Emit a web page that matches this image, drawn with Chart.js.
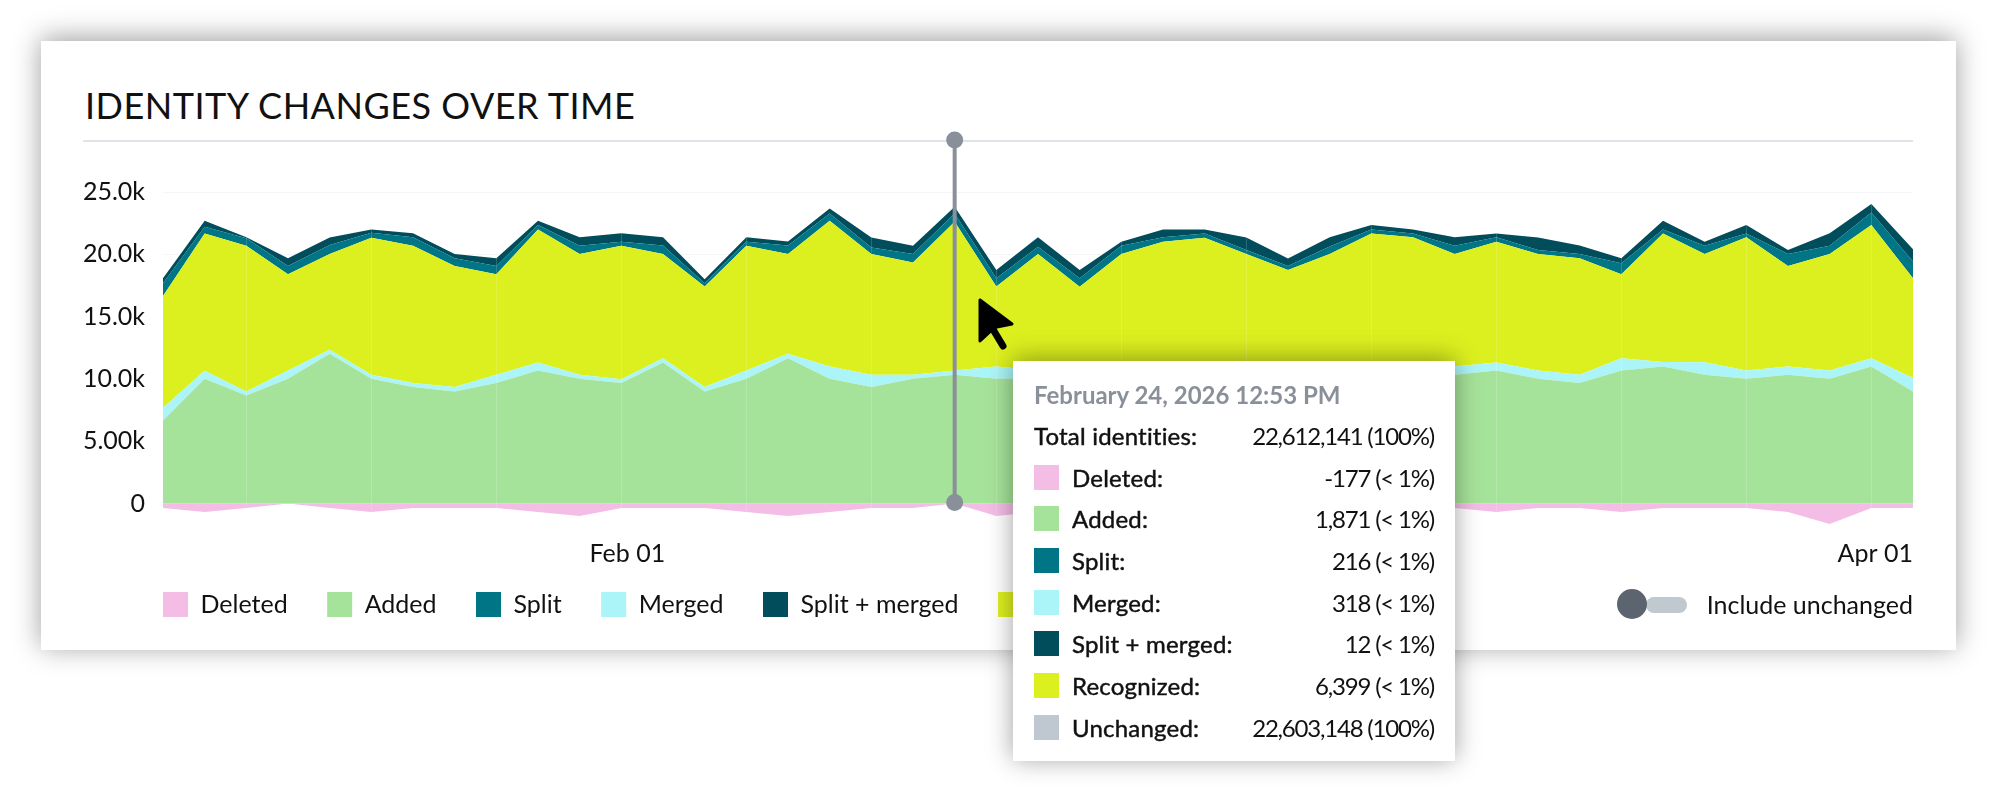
<!DOCTYPE html>
<html><head><meta charset="utf-8">
<script src="https://cdn.jsdelivr.net/npm/chart.js@4"></script>
<style>
html,body{margin:0;padding:0;background:#fff;width:1996px;height:807px;overflow:hidden;font-family:Lato,sans-serif;color:#111}
#card{position:absolute;left:41px;top:41px;width:1915px;height:609px;background:#fff;box-shadow:0 -3px 26px rgba(0,0,0,.38)}
#title{position:absolute;left:85px;top:83px;font-size:36px;line-height:44px;font-weight:400;letter-spacing:.5px;white-space:nowrap;color:#111}
#rule{position:absolute;left:83px;top:140px;width:1830px;height:2px;background:#e0e4e8}
canvas{position:absolute;left:0;top:0}
#cursor{position:absolute;left:0;top:0;pointer-events:none}
#toggle{position:absolute;left:1646px;top:597px;width:41px;height:16px;border-radius:8px;background:#c0c8d0}
#knob{position:absolute;left:1617px;top:589px;width:30px;height:30px;border-radius:50%;background:#5c6470}
#incl{position:absolute;right:83px;top:588px;font-size:25px;line-height:32px;white-space:nowrap}
#tip{position:absolute;left:1013px;top:361px;width:442px;height:400px;background:#fff;box-shadow:0 -2px 24px rgba(0,0,0,.38)}
#tipTitle{position:absolute;left:21px;top:18px;font-size:24px;line-height:32px;font-weight:700;color:#8a9099;white-space:nowrap}
.row{position:absolute;left:21px;right:21px;height:32px;font-size:24px;line-height:32px}
.row .sw{position:absolute;left:0;top:3px;width:25px;height:25px}
.row .lb{position:absolute;left:38px;top:0;font-weight:400;letter-spacing:.2px;-webkit-text-stroke:.45px #111;white-space:nowrap}
.row.total .lb{left:0}
.row .vl{position:absolute;right:0;top:0;white-space:nowrap;letter-spacing:-1.2px}
</style></head><body>
<div id="card"></div>
<div id="title"></div>
<div id="rule"></div>
<canvas id="c" width="1996" height="807"></canvas>
<div id="toggle"></div><div id="knob"></div>
<div id="incl">Include unchanged</div>
<svg id="cursor" width="1996" height="807"><path d="M980 300 L1012 324 L997 327 L993 329 Z M980 300 L980 341 L993 329 Z" fill="#000" stroke="#000" stroke-width="3" stroke-linejoin="round"/><path d="M991 326 L1003 346" stroke="#000" stroke-width="7" stroke-linecap="round"/></svg>
<div id="tip"><div id="tipTitle"></div></div>
<script>
const chartTitle = "IDENTITY CHANGES OVER TIME";
const toggleLabel = "Include unchanged";
const xLabels = ["","","","","","","","","","","","Feb 01","","","","","","","","","","","","","","","","","","","","","","","","","","","","","","","Apr 01"];
const yTicks = [0,5000,10000,15000,20000,25000];
const yTickLabels = ["0","5.00k","10.0k","15.0k","20.0k","25.0k"];
const deleted = [-350,-670,-350,0,-350,-670,-350,-350,-350,-670,-1000,-350,-350,-350,-670,-1000,-670,-350,-350,0,-1000,-670,-350,-350,-670,-350,-350,-670,-350,-350,-350,-350,-670,-350,-350,-670,-350,-350,-350,-670,-1630,-350,-350];
const added = [6675,10010,8680,10010,12015,10010,9345,9000,9665,10680,10010,9665,11320,9000,10010,11670,10010,9345,10010,10330,10010,10010,9665,10010,10330,10010,9665,10330,10680,10330,10010,10330,10680,10010,9665,10680,11000,10330,10010,10330,10010,11000,9000];
const merged = [1015,640,320,670,320,320,320,350,670,640,320,320,350,350,670,350,990,990,320,350,990,670,1010,990,670,670,670,670,670,670,990,670,640,670,670,990,350,1010,670,670,670,670,1070];
const recognized = [8970,11030,11690,7720,7690,11000,11030,9720,8060,10680,9690,10710,8360,8060,10010,8010,11690,9690,9020,11930,6410,9345,6730,9020,10010,10650,9690,7740,8680,10680,10360,9020,9690,9345,9345,6730,10330,8680,10680,8060,9345,10680,8010];
const split = [1010,530,590,670,720,400,670,610,670,350,670,320,670,270,320,670,590,530,670,670,670,590,670,670,350,350,320,320,590,320,320,670,350,320,350,880,320,670,320,960,670,1010,1335];
const splitMerged = [400,480,80,610,610,270,320,350,610,350,670,670,670,320,350,320,400,800,670,530,670,750,670,320,640,320,1010,610,750,350,320,670,320,1010,670,400,690,320,670,320,990,670,990];
const seriesNames = ["Deleted","Added","Merged","Recognized","Split","Split + merged"];
const seriesColors = ["#f4bde6","#a6e39a","#abf5f8","#dcf01f","#007585","#024d5c"];
const legendOrder = ["Deleted","Added","Split","Merged","Split + merged","Recognized"];
const hoverIndex = 19;
const tipTitle = "February 24, 2026 12:53 PM";
const tipTotal = ["Total identities:","22,612,141 (100%)"];
const tipLabels = ["Deleted:","Added:","Split:","Merged:","Split + merged:","Recognized:","Unchanged:"];
const tipValues = ["-177 (< 1%)","1,871 (< 1%)","216 (< 1%)","318 (< 1%)","12 (< 1%)","6,399 (< 1%)","22,603,148 (100%)"];
const tipColors = ["#f4bde6","#a6e39a","#007585","#abf5f8","#024d5c","#dcf01f","#bfc8d0"];

document.getElementById('title').textContent = chartTitle;
document.getElementById('incl').textContent = toggleLabel;
document.getElementById('tipTitle').textContent = tipTitle;
const tip = document.getElementById('tip');
function addRow(top,label,value,color){
  const r=document.createElement('div'); r.className='row'+(color?'':' total'); r.style.top=top+'px';
  if(color){const s=document.createElement('div');s.className='sw';s.style.background=color;r.appendChild(s);}
  const l=document.createElement('div');l.className='lb';l.textContent=label;r.appendChild(l);
  const v=document.createElement('div');v.className='vl';v.textContent=value;r.appendChild(v);
  tip.appendChild(r);
}
addRow(59,tipTotal[0],tipTotal[1],null);
tipLabels.forEach((t,i)=>addRow(100.5+i*41.7,t,tipValues[i],tipColors[i]));

const seriesData=[deleted,added,merged,recognized,split,splitMerged];
let labelNudged=false;
const hoverLine={id:'hoverLine',
  afterLayout(chart){const l=chart.legend;const pad=l.options.labels.padding;l.left=chart.chartArea.left-pad;l.top=592-pad;},
  beforeDraw(chart){
    if(labelNudged)return;labelNudged=true;
    chart.scales.x.getLabelItems().forEach(it=>{if(it.label===xLabels[11])it.options.translation[0]+=6;});
  },
  afterDraw(chart){
    const ctx=chart.ctx,x=chart.scales.x.getPixelForValue(hoverIndex),y0=chart.scales.y.getPixelForValue(0),top=140;
    ctx.save();ctx.strokeStyle='#8a9099';ctx.fillStyle='#8a9099';ctx.lineWidth=4;
    ctx.beginPath();ctx.moveTo(x,top);ctx.lineTo(x,y0-1);ctx.stroke();
    ctx.beginPath();ctx.arc(x,top,8.5,0,Math.PI*2);ctx.fill();
    ctx.beginPath();ctx.arc(x,y0-1,8.5,0,Math.PI*2);ctx.fill();
    ctx.restore();
  }};
new Chart(document.getElementById('c'),{
  type:'line',
  data:{labels:xLabels,datasets:seriesNames.map((n,i)=>({
    label:n,data:seriesData[i],backgroundColor:seriesColors[i],borderColor:seriesColors[i],borderWidth:0,
    pointRadius:0,tension:0,fill:i<2?'origin':'-1'}))},
  options:{
    responsive:false,animation:false,devicePixelRatio:1,
    layout:{padding:{top:192,left:0,right:83,bottom:164}},
    interaction:{mode:null},
    plugins:{tooltip:{enabled:false},title:{display:false},
      legend:{position:'bottom',align:'start',fullSize:false,
        labels:{boxWidth:25,boxHeight:25,padding:39.5,color:'#111',font:{family:'Lato',size:25},
          sort:(a,b)=>legendOrder.indexOf(a.text)-legendOrder.indexOf(b.text)}}},
    scales:{
      x:{grid:{z:1,drawTicks:false,color:c=>c.index%3===2?'rgba(255,255,255,.16)':'rgba(255,255,255,0)'},border:{display:false},
        afterFit:s=>{s.height=40},
        ticks:{autoSkip:false,maxRotation:0,minRotation:0,align:'inner',padding:10,color:'#111',font:{family:'Lato',size:25},
          callback:(v,i)=>xLabels[i]}},
      y:{stacked:true,min:-2000,max:25000,grid:{color:'#f4f5f6',drawTicks:false},border:{display:false},
        afterBuildTicks:s=>{s.ticks=yTicks.map(v=>({value:v}))},
        afterFit:s=>{s.width=163},
        ticks:{padding:18,color:'#111',font:{family:'Lato',size:25},
          callback:v=>yTickLabels[yTicks.indexOf(v)]}}
    }
  },
  plugins:[hoverLine]
});
</script>
</body></html>
